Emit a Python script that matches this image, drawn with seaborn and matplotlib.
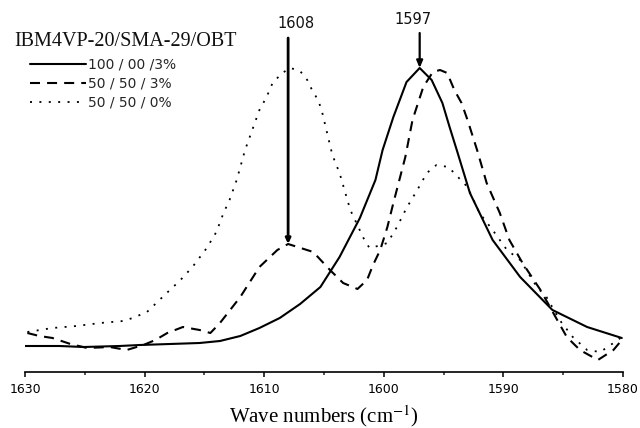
import numpy as np
import pandas as pd
import matplotlib
matplotlib.use("Agg")
import matplotlib.pyplot as plt
import seaborn as sns

# FTIR absorbance around the pyridine ring band (arbitrary units)
wn_100_00_3 = [1630.0, 1627.1, 1625.1, 1622.1, 1620.4, 1617.9, 1615.4, 1613.7, 1612.0,
               1610.4, 1608.7, 1607.0, 1605.3, 1603.7, 1602.0, 1600.7, 1600.1, 1599.2,
               1598.1, 1597.0, 1596.0, 1595.1, 1594.5, 1593.9, 1592.8, 1590.9, 1588.6,
               1585.9, 1583.0, 1580.1]
ab_100_00_3 = [0.28, 0.28, 0.27, 0.28, 0.29, 0.30, 0.31, 0.33, 0.38,
               0.46, 0.56, 0.70, 0.87, 1.17, 1.56, 1.94, 2.24, 2.57,
               2.92, 3.06, 2.94, 2.71, 2.47, 2.24, 1.81, 1.34, 0.97,
               0.64, 0.47, 0.36]

wn_50_50_3 = [1629.8, 1628.8, 1627.7, 1626.2, 1624.8, 1622.9, 1621.5, 1620.1, 1619.1,
              1618.1, 1616.8, 1615.4, 1614.5, 1613.7, 1612.0, 1610.4, 1608.9, 1608.0,
              1605.9, 1604.5, 1603.4, 1602.2, 1601.4, 1600.9, 1600.3, 1599.7, 1599.2,
              1598.7, 1598.2, 1597.6, 1596.7, 1595.9, 1595.3, 1594.7, 1594.1, 1593.5,
              1593.0, 1592.2, 1591.4, 1590.3, 1589.5, 1588.4, 1586.9, 1585.5, 1584.7,
              1583.6, 1582.1, 1580.8, 1580.1]
ab_50_50_3 = [0.41, 0.38, 0.36, 0.30, 0.26, 0.27, 0.24, 0.29, 0.34,
              0.41, 0.47, 0.44, 0.41, 0.51, 0.77, 1.07, 1.24, 1.30,
              1.22, 1.04, 0.91, 0.85, 0.94, 1.09, 1.24, 1.47, 1.71,
              1.94, 2.17, 2.54, 2.87, 3.02, 3.04, 3.01, 2.84, 2.71,
              2.54, 2.24, 1.91, 1.61, 1.34, 1.11, 0.84, 0.54, 0.37,
              0.24, 0.14, 0.24, 0.34]

wn_50_50_0 = [1629.8, 1627.7, 1625.7, 1623.7, 1621.8, 1621.0, 1619.8, 1618.5, 1617.0,
              1616.0, 1614.8, 1614.0, 1613.4, 1612.9, 1612.3, 1611.6, 1611.0, 1610.4,
              1609.8, 1609.3, 1608.5, 1607.8, 1607.0, 1606.4, 1606.0, 1605.5, 1605.2,
              1604.3, 1603.7, 1602.8, 1601.7, 1601.2, 1600.5, 1599.7, 1598.9, 1598.1,
              1597.2, 1596.4, 1595.6, 1594.6, 1593.8, 1593.0, 1592.0, 1590.9, 1589.7,
              1588.6, 1587.2, 1586.4, 1585.3, 1584.2, 1583.0, 1581.9, 1580.8, 1580.1]
ab_50_50_0 = [0.42, 0.46, 0.48, 0.51, 0.53, 0.56, 0.62, 0.77, 0.94,
              1.07, 1.26, 1.42, 1.61, 1.74, 1.94, 2.24, 2.44, 2.64,
              2.77, 2.91, 3.01, 3.06, 3.03, 2.94, 2.84, 2.74, 2.64,
              2.19, 2.01, 1.64, 1.36, 1.26, 1.28, 1.31, 1.47, 1.66,
              1.84, 2.01, 2.09, 2.07, 1.97, 1.87, 1.61, 1.44, 1.24,
              1.14, 0.87, 0.77, 0.54, 0.37, 0.24, 0.22, 0.31, 0.37]

series_labels = ["100 / 00 /3%", "50 / 50 / 3%", "50 / 50 / 0%"]
legend_title = "IBM4VP-20/SMA-29/OBT"
x_ticks = [1630, 1620, 1610, 1600, 1590, 1580]
x_minor = [1625, 1615, 1605, 1595, 1585]
peak_shift = 1608
peak_main = 1597

sns.set_theme(style="white")
plt.rcParams["font.family"] = ["DejaVu Sans"]
plt.rcParams["mathtext.fontset"] = "stix"

fig = plt.figure(figsize=(6.4, 4.28), dpi=100)
ax = fig.add_axes([25 / 640, 1 - 372 / 428, 598 / 640, 362 / 428])

styles = [
    dict(linestyle="-", linewidth=1.5),
    dict(linestyle=(0, (4.8, 3.4)), linewidth=1.5),
    dict(linestyle=(0, (1.1, 4.1)), linewidth=1.3),
]
for wn, ab, lab, st in zip([wn_100_00_3, wn_50_50_3, wn_50_50_0],
                           [ab_100_00_3, ab_50_50_3, ab_50_50_0],
                           series_labels, styles):
    df = pd.DataFrame({"wn": wn, "ab": ab})
    sns.lineplot(data=df, x="wn", y="ab", ax=ax, color="black", label=lab,
                 sort=False, errorbar=None, **st)

ax.set_xlim(1630, 1580)
ax.set_ylim(0.02, 3.64)

# peak markers
y_shift = ab_50_50_3[wn_50_50_3.index(peak_shift)]
y_main = ab_100_00_3[wn_100_00_3.index(peak_main)]
ax.annotate("", xy=(peak_shift, y_shift), xytext=(peak_shift, 3.36),
            arrowprops=dict(arrowstyle="-|>,head_length=0.25,head_width=0.12",
                            color="black", lw=2.0, shrinkA=0, shrinkB=0))
ax.annotate("", xy=(peak_main, y_main), xytext=(peak_main, 3.41),
            arrowprops=dict(arrowstyle="-|>,head_length=0.35,head_width=0.15",
                            color="black", lw=1.6, shrinkA=0, shrinkB=0))
ax.text(1607.3, 3.51, str(peak_shift), ha="center", va="center", fontsize=10.5,
        color="#111111")
ax.text(1597.6, 3.55, str(peak_main), ha="center", va="center", fontsize=10.5,
        color="#111111")

ax.set_xticks(x_ticks)
ax.set_xticks(x_minor, minor=True)
ax.set_xticklabels([str(t) for t in x_ticks])
ax.set_yticks([])
ax.tick_params(axis="x", which="major", direction="out", length=3.8, width=1.1,
               pad=4, labelsize=9, colors="black", bottom=True)
ax.tick_params(axis="x", which="minor", direction="out", length=2.5, width=1.1,
               bottom=True)
for side in ["left", "top", "right"]:
    ax.spines[side].set_visible(False)
ax.spines["bottom"].set_linewidth(1.2)
ax.spines["bottom"].set_color("black")

ax.set_xlabel("Wave numbers (cm$^{-1}$)", fontsize=15, family="Liberation Serif",
              labelpad=5, color="black")
ax.set_ylabel("")

handles, labels = ax.get_legend_handles_labels()
ax.legend(handles, labels, loc="upper left",
          bbox_to_anchor=(30 / 640, 1 - 58 / 428), bbox_transform=fig.transFigure,
          frameon=False, borderpad=0, borderaxespad=0, handlelength=4.0,
          handletextpad=0.15, labelspacing=0.35, prop={"size": 10})
fig.text(14 / 640, 1 - 41 / 428, legend_title, ha="left", va="center",
         fontsize=14.5, family="Liberation Serif", color="#111111")

fig.savefig("out.png", dpi=100)
